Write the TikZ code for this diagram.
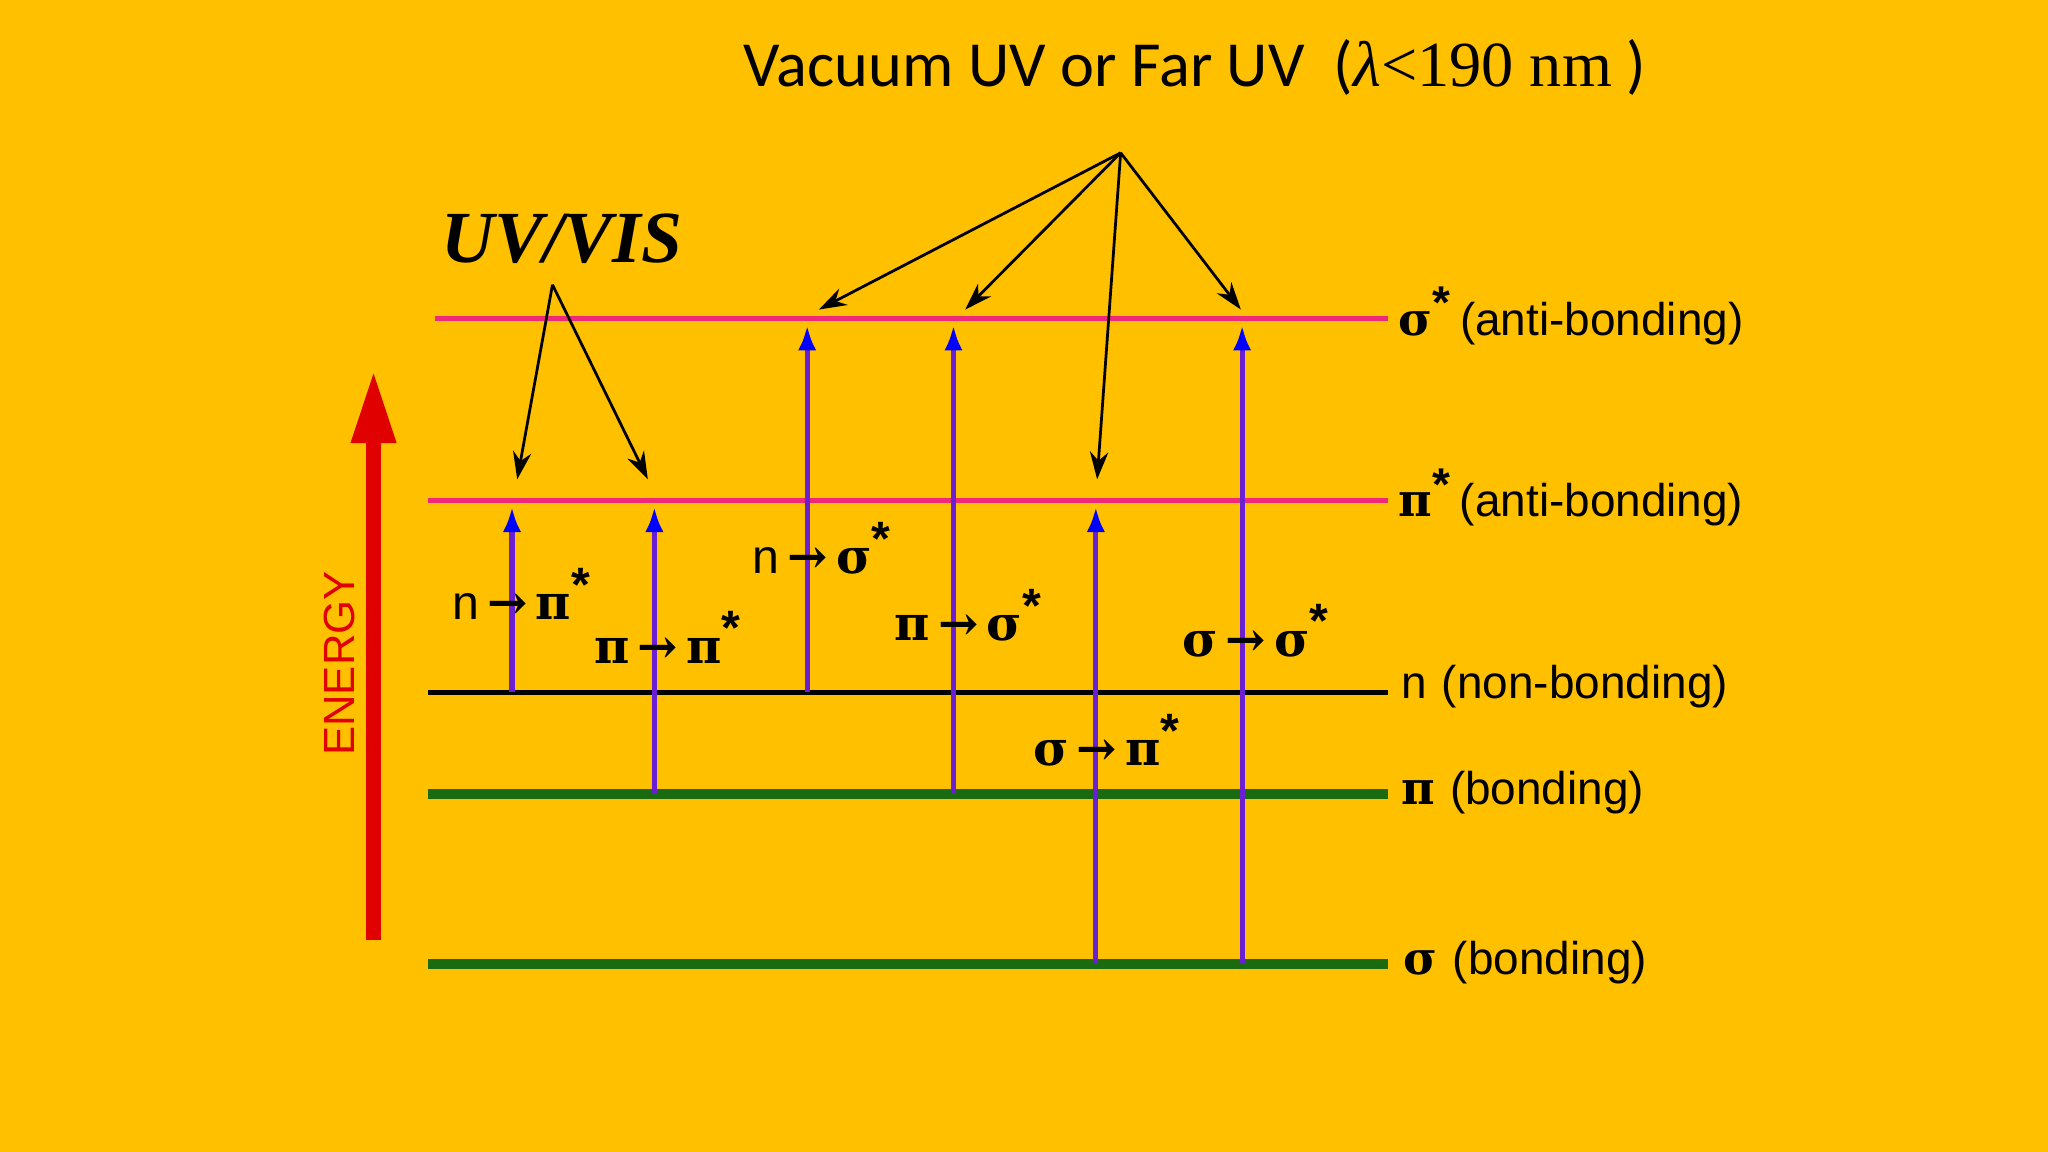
\documentclass[tikz,border=0pt]{standalone}
\usepackage{fontspec}
\setmainfont{Liberation Sans}
\newfontfamily\titlefont{Carlito}
\newfontfamily\serifx{Liberation Serif}
\newfontfamily\grk{DejaVu Serif}
\usetikzlibrary{arrows.meta}
\definecolor{bg}{HTML}{FFC000}
\definecolor{pinkl}{HTML}{F0287A}
\definecolor{greenl}{HTML}{1A6B10}
\definecolor{purp}{HTML}{6A1FD0}
\definecolor{redE}{HTML}{E00000}
\tikzset{
 lvl/.style={line width=1.1pt},
 trans/.style={purp, line width=1.1pt, -{Latex[length=5.5pt,width=4pt,blue]}},
 ann/.style={line width=0.6pt, -{Stealth[length=6pt,width=4pt]}},
 tlab/.style={font=\fontsize{10.5}{12}\selectfont, inner sep=0pt},
 rlab/.style={anchor=west, font=\fontsize{10}{12}\selectfont, inner sep=0pt}
}
\newcommand{\sg}{{\grk\bfseries σ}}
\newcommand{\pp}{{\grk\bfseries π}}
\newcommand{\tto}{\,{\grk\bfseries →}\,}
\begin{document}
\begin{tikzpicture}[x=0.01cm,y=-0.01cm]
\fill[bg] (0,0) rectangle (1568,882);
\useasboundingbox (0,0) rectangle (1568,882);
% levels
\draw[pinkl,lvl] (333,244) coordinate (s1a) -- (1063,244) coordinate (s1b);
\draw[pinkl,lvl] (328,383) coordinate (p1a) -- (1063,383) coordinate (p1b);
\draw[black,lvl] (328,530) -- (1063,530) coordinate (nb);
\draw[greenl,line width=2.3pt] (328,608) -- (1063,608) coordinate (pb);
\draw[greenl,line width=2.3pt] (328,738) -- (1063,738) coordinate (sb);
% right labels
\node[rlab] (L1) at (1070,242) {\sg$^{\textbf{*}}$\,(anti-bonding)};
\node[rlab] (L2) at (1070,381) {\pp$^{\textbf{*}}$\,(anti-bonding)};
\node[rlab] (L3) at (1072,526) {n\,\,(non-bonding)};
\node[rlab] (L4) at (1072,607) {\pp\,\,(bonding)};
\node[rlab] (L5) at (1074,737) {\sg\,\,(bonding)};
% energy
\coordinate (e0) at (286,720); \coordinate (e1) at (286,283);
\draw[redE,line width=3.2pt,-{Triangle[length=16pt,width=9pt]}] (e0) -- (e1);
\node[redE,rotate=90,font=\fontsize{9.5}{11}\selectfont] (en) at (260,508) {ENERGY};
% transitions
\foreach \x/\a/\b in {392/530/388, 501/608/388, 618/530/249, 730/608/249, 839/738/388, 951/738/249}{
 \coordinate (t\x a) at (\x,\a); \coordinate (t\x b) at (\x,\b);
 \draw[trans] (t\x a) -- (t\x b);}
\node[tlab] (n1) at (400,455) {n\tto\pp$^{\textbf{*}}$};
\node[tlab] (n2) at (512,488) {\pp\tto\pp$^{\textbf{*}}$};
\node[tlab] (n3) at (630,420) {n\tto\sg$^{\textbf{*}}$};
\node[tlab] (n4) at (742,471) {\pp\tto\sg$^{\textbf{*}}$};
\node[tlab] (n5) at (962,483) {\sg\tto\sg$^{\textbf{*}}$};
\node[tlab] (n6) at (848,567) {\sg\tto\pp$^{\textbf{*}}$};
% titles
\node[font=\titlefont\fontsize{14}{16}\selectfont] (T) at (915,52) {Vacuum UV or Far UV\ \ ({\serifx\itshape λ}{\serifx <190 nm} )};
\node[font=\serifx\bfseries\itshape\fontsize{16}{18}\selectfont] (U) at (430,183) {UV/VIS};
\coordinate (uv) at (423,218);
\coordinate (vu) at (858,117);
\foreach \x/\y in {396/367, 496/367}{\coordinate (q) at (\x,\y); \draw[ann] (uv) -- (q);}
\foreach \x/\y in {627/237, 739/237, 840/367, 950/237}{\coordinate (q) at (\x,\y); \draw[ann] (vu) -- (q);}
\end{tikzpicture}
\end{document}
